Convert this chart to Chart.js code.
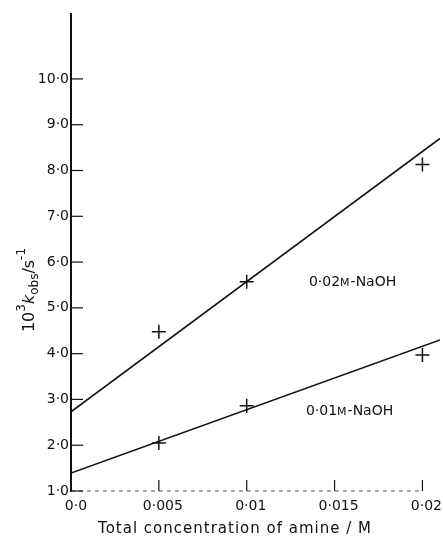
<!DOCTYPE html>
<html>
<head>
<meta charset="utf-8">
<title>k_obs vs amine concentration</title>
<script src="https://cdn.jsdelivr.net/npm/chart.js"></script>
<style>
    html, body { margin: 0; padding: 0; background: #fff; }
    #wrap { width: 443px; height: 542px; }
</style>
<script>
    // data
    const amine = [0.005, 0.01, 0.02];
    const kobs02 = [4.48, 5.57, 8.13];   // 0.02M NaOH
    const kobs01 = [2.05, 2.86, 3.97];   // 0.01M NaOH
    const fitX = [0, 0.021];
    const fit02 = [2.73, 8.70];
    const fit01 = [1.39, 4.30];
    const yTicks = [1, 2, 3, 4, 5, 6, 7, 8, 9, 10];
    const yTickLabels = ['1·0', '2·0', '3·0', '4·0', '5·0', '6·0', '7·0', '8·0', '9·0', '10·0'];
    const xTicks = [0, 0.005, 0.01, 0.015, 0.02];
    const xTickLabels = ['0·0', '0·005', '0·01', '0·015', '0·02'];
    const notes = [
        { x: 0.01354, y: 5.56, parts: ['0·02', 'M', '-NaOH'] },
        { x: 0.01337, y: 2.75, parts: ['0·01', 'M', '-NaOH'] }
    ];

    const FONT = '"DejaVu Sans", sans-serif';

    function pts(xs, ys) {
        return xs.map((x, i) => ({ x: x, y: ys[i] }));
    }

    // axes, inward ticks, titles and the two labels
    const paperPlugin = {
        id: 'paper',
        afterDraw(chart) {
            const ctx = chart.ctx;
            const xs = chart.scales.x, ys = chart.scales.y;
            const area = chart.chartArea;
            const x0 = xs.getPixelForValue(0);
            const yb = ys.getPixelForValue(1);
            ctx.save();
            ctx.strokeStyle = '#111';
            ctx.fillStyle = '#111';

            // y axis
            ctx.lineWidth = 2;
            ctx.beginPath();
            ctx.moveTo(x0, area.top);
            ctx.lineTo(x0, yb + 1);
            ctx.stroke();

            // x axis, faint broken line as printed
            ctx.lineWidth = 1;
            ctx.strokeStyle = '#555';
            ctx.setLineDash([4, 4]);
            ctx.beginPath();
            ctx.moveTo(x0, yb);
            ctx.lineTo(xs.getPixelForValue(0.02), yb);
            ctx.stroke();
            ctx.setLineDash([]);
            ctx.strokeStyle = '#111';

            // y ticks and labels
            ctx.font = '14px ' + FONT;
            ctx.textAlign = 'right';
            ctx.textBaseline = 'middle';
            yTicks.forEach((v, i) => {
                const py = ys.getPixelForValue(v);
                ctx.lineWidth = 1.2;
                ctx.beginPath();
                ctx.moveTo(x0, py);
                ctx.lineTo(x0 + 12, py);
                ctx.stroke();
                ctx.fillText(yTickLabels[i], x0 - 2, py);
            });

            // x ticks and labels
            ctx.textAlign = 'center';
            ctx.textBaseline = 'top';
            xTicks.forEach((v, i) => {
                const px = xs.getPixelForValue(v);
                if (v > 0) {
                    ctx.lineWidth = 1.2;
                    ctx.beginPath();
                    ctx.moveTo(px, yb);
                    ctx.lineTo(px, yb - 11);
                    ctx.stroke();
                }
                ctx.fillText(xTickLabels[i], px + (i === 0 ? 5 : 4), yb + 8);
            });

            // x title
            ctx.font = '15px ' + FONT;
            ctx.textBaseline = 'alphabetic';
            ctx.letterSpacing = '1px';
            ctx.fillText('Total concentration of amine / M', 235, 533);
            ctx.letterSpacing = '0px';

            // y title: 10^3 k_obs / s^-1, rotated
            ctx.save();
            ctx.translate(34, 290);
            ctx.rotate(-Math.PI / 2);
            const runs = [
                { t: '10', f: '16px ' + FONT, dy: 0 },
                { t: '3', f: '12px ' + FONT, dy: -9 },
                { t: 'k', f: 'italic 16px ' + FONT, dy: 0 },
                { t: 'obs', f: '12px ' + FONT, dy: 4 },
                { t: '/s', f: '16px ' + FONT, dy: 0 },
                { t: '-1', f: '12px ' + FONT, dy: -9 }
            ];
            let w = 0;
            runs.forEach(r => { ctx.font = r.f; w += ctx.measureText(r.t).width; });
            let cx = -w / 2;
            ctx.textAlign = 'left';
            runs.forEach(r => {
                ctx.font = r.f;
                ctx.fillText(r.t, cx, r.dy);
                cx += ctx.measureText(r.t).width;
            });
            ctx.restore();

            // series labels with small-capital M
            ctx.textAlign = 'left';
            ctx.textBaseline = 'middle';
            notes.forEach(n => {
                let px = xs.getPixelForValue(n.x);
                const py = ys.getPixelForValue(n.y);
                const fonts = ['14px ' + FONT, '11px ' + FONT, '14px ' + FONT];
                n.parts.forEach((p, i) => {
                    ctx.font = fonts[i];
                    ctx.fillText(p, px, py + (i === 1 ? 1 : 0));
                    px += ctx.measureText(p).width + (i === 1 ? 1 : 0);
                });
            });
            ctx.restore();
        }
    };

    document.addEventListener('DOMContentLoaded', function() {
        const ctx = document.getElementById('chart').getContext('2d');
        new Chart(ctx, {
            type: 'scatter',
            data: {
                datasets: [
                    {
                        type: 'line',
                        data: pts(fitX, fit02),
                        borderColor: '#111',
                        borderWidth: 1.5,
                        pointRadius: 0,
                        fill: false
                    },
                    {
                        type: 'line',
                        data: pts(fitX, fit01),
                        borderColor: '#111',
                        borderWidth: 1.5,
                        pointRadius: 0,
                        fill: false
                    },
                    {
                        data: pts(amine, kobs02),
                        pointStyle: 'cross',
                        pointRadius: 7,
                        borderColor: '#111',
                        borderWidth: 1.5
                    },
                    {
                        data: pts(amine, kobs01),
                        pointStyle: 'cross',
                        pointRadius: 7,
                        borderColor: '#111',
                        borderWidth: 1.5
                    }
                ]
            },
            options: {
                responsive: false,
                animation: false,
                events: [],
                layout: { autoPadding: false, padding: { top: 13, right: 3, left: 0, bottom: 0 } },
                plugins: {
                    legend: { display: false },
                    tooltip: { enabled: false }
                },
                scales: {
                    x: {
                        type: 'linear',
                        min: 0,
                        max: 0.021,
                        border: { display: false },
                        grid: { display: false },
                        ticks: { display: false },
                        afterFit(scale) { scale.height = 51; }
                    },
                    y: {
                        type: 'linear',
                        min: 1,
                        max: 11.44,
                        border: { display: false },
                        grid: { display: false },
                        ticks: { display: false },
                        afterFit(scale) { scale.width = 71; }
                    }
                }
            },
            plugins: [paperPlugin]
        });
    });
</script>
</head>
<body>
<div id="wrap"><canvas id="chart" width="443" height="542"></canvas></div>
</body>
</html>
